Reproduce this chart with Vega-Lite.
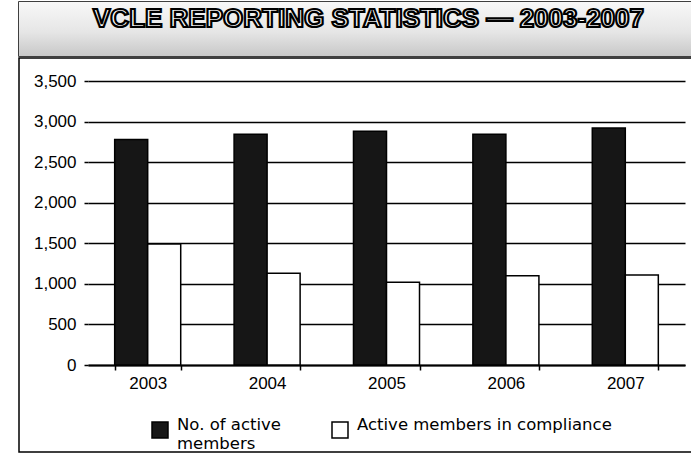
{
  "$schema": "https://vega.github.io/schema/vega-lite/v6.json",
  "padding": {"left": 18, "top": 1, "right": 0, "bottom": 0},
  "background": "white",
  "spacing": 0,
  "config": {
    "view": {"stroke": null},
    "axis": {"labelFont": "Liberation Sans", "labelColor": "black", "labelFontSize": 17}
  },
  "datasets": {
    "stats": [
      {"year": "2003", "series": "No. of active members", "members": 2780},
      {"year": "2003", "series": "Active members in compliance", "members": 1490},
      {"year": "2004", "series": "No. of active members", "members": 2845},
      {"year": "2004", "series": "Active members in compliance", "members": 1130},
      {"year": "2005", "series": "No. of active members", "members": 2880},
      {"year": "2005", "series": "Active members in compliance", "members": 1020},
      {"year": "2006", "series": "No. of active members", "members": 2845},
      {"year": "2006", "series": "Active members in compliance", "members": 1100},
      {"year": "2007", "series": "No. of active members", "members": 2920},
      {"year": "2007", "series": "Active members in compliance", "members": 1110}
    ],
    "heading": [{"text": "VCLE REPORTING STATISTICS — 2003-2007"}]
  },
  "vconcat": [
    {
      "width": 673,
      "height": 54,
      "view": {"stroke": "black", "strokeWidth": 1.5},
      "data": {"name": "heading"},
      "layer": [
        {
          "mark": {
            "type": "rect",
            "color": {
              "gradient": "linear", "x1": 0, "y1": 0, "x2": 0, "y2": 1,
              "stops": [
                {"offset": 0, "color": "#f8f8f8"},
                {"offset": 0.55, "color": "#e6e6e6"},
                {"offset": 1, "color": "#c8c8c8"}
              ]
            }
          },
          "encoding": {}
        },
        {
          "mark": {
            "type": "text",
            "font": "Liberation Sans",
            "fontWeight": "bold",
            "fontSize": 26,
            "fill": "white",
            "stroke": "black",
            "strokeWidth": 2.2,
            "baseline": "middle",
            "dy": -10,
            "dx": 13
          },
          "encoding": {"text": {"field": "text"}}
        }
      ]
    },
    {
      "width": 673,
      "height": 394,
      "view": {"stroke": "black", "strokeWidth": 1.5},
      "data": {"name": "stats"},
      "mark": {"type": "bar", "stroke": "black", "strokeWidth": 1.5},
      "encoding": {
        "x": {
          "field": "year",
          "type": "nominal",
          "title": null,
          "scale": {"range": [69, 666], "paddingInner": 0.447, "paddingOuter": 0.2235},
          "axis": {
            "offset": -87,
            "labelAngle": 0,
            "tickBand": "extent",
            "tickColor": "black",
            "tickSize": 5,
            "tickWidth": 1.5,
            "domainColor": "black",
            "domainWidth": 2,
            "labelPadding": 5
          }
        },
        "xOffset": {
          "field": "series",
          "sort": ["No. of active members", "Active members in compliance"]
        },
        "y": {
          "field": "members",
          "type": "quantitative",
          "title": null,
          "scale": {"domain": [0, 3500], "range": [307, 23]},
          "axis": {
            "offset": -69,
            "values": [0, 500, 1000, 1500, 2000, 2500, 3000, 3500],
            "format": ",d",
            "domain": false,
            "tickColor": "black",
            "tickSize": 4,
            "tickWidth": 1.5,
            "gridColor": "black",
            "gridWidth": 1.5,
            "gridOpacity": 1,
            "labelPadding": 8
          }
        },
        "fill": {
          "field": "series",
          "type": "nominal",
          "title": null,
          "scale": {
            "domain": ["No. of active members", "Active members in compliance"],
            "range": ["#161616", "white"]
          },
          "legend": {
            "orient": "none",
            "legendX": 132,
            "legendY": 419,
            "direction": "horizontal",
            "symbolType": "square",
            "symbolSize": 256,
            "symbolStrokeColor": "black",
            "symbolStrokeWidth": 1.5,
            "labelFont": "DejaVu Sans",
            "labelFontSize": 16.5,
            "labelColor": "black",
            "labelLimit": 400,
            "labelBaseline": "alphabetic",
            "labelLineHeight": 18,
            "labelOffset": 8,
            "columnPadding": 48,
            "labelExpr": "datum.label == 'No. of active members' ? ['No. of active', 'members'] : [datum.label, '']"
          }
        }
      }
    }
  ]
}
